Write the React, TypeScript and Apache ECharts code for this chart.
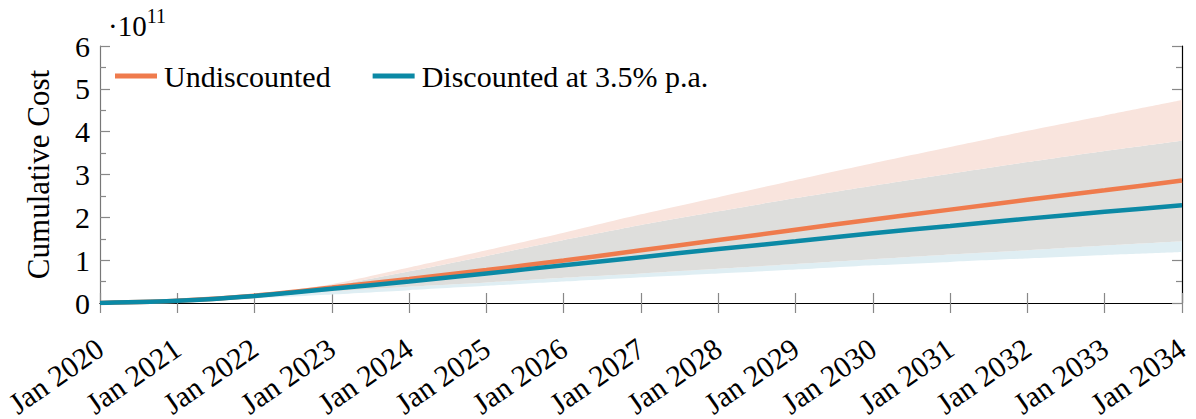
import React, { useEffect, useRef } from "react";
import * as echarts from "echarts";

const years = [2020, 2021, 2022, 2023, 2024, 2025, 2026, 2027, 2028, 2029, 2030, 2031, 2032, 2033, 2034];
const xLabels = years.map((y) => "Jan " + y);
const undiscounted = [0, 0.05, 0.17, 0.36, 0.56, 0.77, 0.99, 1.23, 1.47, 1.71, 1.95, 2.18, 2.41, 2.63, 2.86];
const discounted = [0, 0.05, 0.165, 0.33, 0.5, 0.69, 0.88, 1.07, 1.26, 1.44, 1.63, 1.8, 1.97, 2.13, 2.28];
const undiscUpper = [0, 0.06, 0.2, 0.44, 0.83, 1.23, 1.64, 2.07, 2.47, 2.87, 3.26, 3.64, 4.02, 4.38, 4.74];
const undiscLower = [0, 0.04, 0.13, 0.27, 0.38, 0.48, 0.59, 0.69, 0.8, 0.91, 1.02, 1.13, 1.23, 1.34, 1.44];
const discUpper = [0, 0.055, 0.18, 0.4, 0.74, 1.1, 1.47, 1.82, 2.14, 2.45, 2.74, 3.02, 3.29, 3.55, 3.79];
const discLower = [0, 0.035, 0.11, 0.2, 0.3, 0.4, 0.5, 0.6, 0.69, 0.78, 0.88, 0.96, 1.04, 1.12, 1.19];
const yTicks = [0, 1, 2, 3, 4, 5, 6];

const FONT = "Liberation Serif";
const FS = 30;
const ORANGE = "#EF7B4D";
const BLUE = "#0B89A5";

export default function App() {
  const ref = useRef<HTMLDivElement>(null);
  useEffect(() => {
    if (!ref.current) return;
    const chart = echarts.init(ref.current, null, { renderer: "svg" });
    const lowBlue = years.map((_, i) => Math.max(0, Math.min(undiscLower[i], discUpper[i]) - discLower[i]));
    const overlap = years.map((_, i) => Math.max(0, Math.min(discUpper[i], undiscUpper[i]) - Math.max(undiscLower[i], discLower[i])));
    const topOrange = years.map((_, i) => Math.max(0, undiscUpper[i] - Math.max(discUpper[i], undiscLower[i])));
    const bandSeries = (name: string, data: number[], color: string | null) => ({
      name,
      type: "line",
      stack: "band",
      data,
      symbol: "none",
      smooth: 0.2,
      silent: true,
      lineStyle: { width: 0, opacity: 0 },
      areaStyle: color ? { color, opacity: 1 } : { opacity: 0 },
      z: 1,
    });
    const axisLabelFont = { fontFamily: FONT, fontSize: FS, color: "#000" };
    const catAxis = {
      type: "category",
      data: xLabels,
      boundaryGap: false,
      splitLine: { show: false },
    };
    chart.setOption({
      animation: false,
      grid: { left: 100, right: 14, top: 46, bottom: 116, containLabel: false, outerBoundsMode: "none" },
      legend: {
        data: ["Undiscounted", "Discounted at 3.5% p.a."],
        left: 110,
        top: 56,
        icon: "rect",
        itemWidth: 42,
        itemHeight: 5,
        itemGap: 42,
        textStyle: { fontFamily: FONT, fontSize: FS, color: "#000", padding: [0, 0, 0, 2] },
      },
      xAxis: [
        {
          ...catAxis,
          position: "bottom",
          axisLine: { show: true, lineStyle: { color: "#555", width: 1.2 } },
          axisTick: { show: true, inside: false, length: 10, interval: 0, lineStyle: { color: "#888", width: 1.2 } },
          axisLabel: { ...axisLabelFont, rotate: 35, margin: 42, interval: 0, align: "right", verticalAlign: "middle" },
        },
        {
          ...catAxis,
          position: "top",
          axisLine: { show: true, lineStyle: { color: "#000", width: 1.2 } },
          axisTick: { show: true, inside: false, length: 10, interval: 0, lineStyle: { color: "#888", width: 1.2 } },
          axisLabel: { show: false },
        },
      ],
      yAxis: [
        {
          type: "value",
          min: yTicks[0],
          max: yTicks[yTicks.length - 1],
          interval: 1,
          name: "Cumulative Cost",
          nameLocation: "middle",
          nameGap: 46,
          nameTextStyle: { fontFamily: FONT, fontSize: 31, color: "#000" },
          axisLine: { show: true, lineStyle: { color: "#777", width: 1.2 } },
          axisTick: { show: true, inside: true, length: 10, lineStyle: { color: "#888", width: 1.2 } },
          minorTick: { show: true, splitNumber: 2, length: 6, lineStyle: { color: "#888", width: 1.2 } },
          splitLine: { show: false },
          axisLabel: { ...axisLabelFont, margin: 10 },
        },
        {
          type: "value",
          position: "right",
          min: yTicks[0],
          max: yTicks[yTicks.length - 1],
          interval: 1,
          axisLine: { show: true, lineStyle: { color: "#000", width: 1.2 } },
          axisTick: { show: true, inside: true, length: 10, lineStyle: { color: "#888", width: 1.2 } },
          minorTick: { show: true, splitNumber: 2, length: 6, lineStyle: { color: "#888", width: 1.2 } },
          splitLine: { show: false },
          axisLabel: { show: false },
        },
      ],
      graphic: [
        {
          type: "text",
          left: 108,
          top: 6,
          style: {
            text: "{a|·10}{b|11}",
            rich: {
              a: { fontFamily: FONT, fontSize: 29, color: "#000", verticalAlign: "bottom", lineHeight: 34 },
              b: { fontFamily: FONT, fontSize: 20, color: "#000", verticalAlign: "top", lineHeight: 34, padding: [0, 0, 12, 0] },
            },
          },
        },
      ],
      series: [
        bandSeries("base", discLower, null),
        bandSeries("lowBlue", lowBlue, "#DFEEF3"),
        bandSeries("overlap", overlap, "#DEDEDC"),
        bandSeries("topOrange", topOrange, "#F9E4DD"),
        {
          name: "Undiscounted",
          type: "line",
          data: undiscounted,
          symbol: "none",
          smooth: 0.2,
          lineStyle: { color: ORANGE, width: 4.5 },
          itemStyle: { color: ORANGE },
          z: 3,
        },
        {
          name: "Discounted at 3.5% p.a.",
          type: "line",
          data: discounted,
          symbol: "none",
          smooth: 0.2,
          lineStyle: { color: BLUE, width: 4.5 },
          itemStyle: { color: BLUE },
          z: 4,
        },
      ],
    });
    return () => chart.dispose();
  }, []);
  return (
    <div
      ref={ref}
      style={{ position: "fixed", left: 0, top: 0, width: 1196, height: 419, background: "#fff" }}
    />
  );
}
